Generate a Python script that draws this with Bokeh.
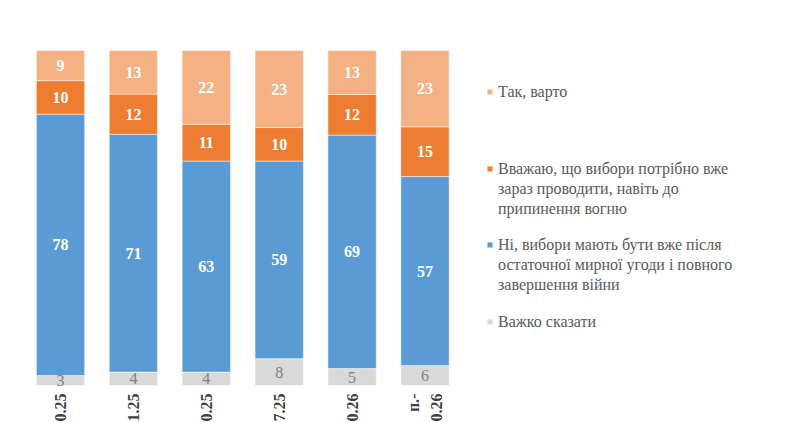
import numpy as np
from bokeh.plotting import figure
from bokeh.models import Range1d, Legend, LegendItem, ColumnDataSource
from bokeh.embed import file_html
from bokeh.resources import INLINE
from bokeh.core.properties import value

# ---- data ----
periods = ["02–10.10.25", "14–21.11.25", "13–20.10.25", "10–17.07.25",
           "02–10.10.26", "п.-\n03–10.10.26"]
hard_to_say = [3, 4, 4, 8, 5, 6]
after_peace = [78, 71, 63, 59, 69, 57]
now_even = [10, 12, 11, 10, 12, 15]
yes_worth = [9, 13, 22, 23, 13, 23]

series_keys = ["hard", "after", "now", "yes"]
series_names = [
    ["Важко сказати"],
    ["Ні, вибори мають бути вже після", "остаточної мирної угоди і повного", "завершення війни"],
    ["Вважаю, що вибори потрібно вже", "зараз проводити, навіть до", "припинення вогню"],
    ["Так, варто"],
]
colors = ["#D9D9D9", "#5B9BD5", "#ED7D31", "#F4B183"]
label_colors = ["#7F7F7F", "white", "white", "white"]

FONT = "Liberation Serif"

x = list(range(len(periods)))

# 100% stacked: each column normalised to its total
vals = np.array([hard_to_say, after_peace, now_even, yes_worth], dtype=float)
shares = vals / vals.sum(axis=0) * 100
data = dict(x=x)
for k, key in enumerate(series_keys):
    data[key] = list(shares[k])
src = ColumnDataSource(data)

p = figure(width=785, height=422, output_backend="svg", toolbar_location=None,
           x_range=Range1d(-0.823, 9.945), y_range=Range1d(-11.04, 114.93),
           min_border=0)
p.axis.visible = False
p.grid.visible = False
p.outline_line_color = None
p.background_fill_color = "white"
p.border_fill_color = "white"

renderers = p.vbar_stack(series_keys, x="x", width=0.663, source=src,
                         color=colors, line_color="white", line_width=0.5)

# segment value labels
tops = np.cumsum(shares, axis=0)
bottoms = tops - shares
for k in range(len(series_keys)):
    centers = (tops[k] + bottoms[k]) / 2
    p.text(x=x, y=list(centers), text=[str(int(v)) for v in vals[k]],
           text_font=value(FONT), text_font_size="16px",
           text_font_style="normal" if k == 0 else "bold",
           text_color=label_colors[k], text_align="center", text_baseline="middle")

# category labels (rotated, cropped at the bottom edge like the original)
p.text(x=x, y=-2.4, text=periods, angle=np.pi / 2, text_font=value(FONT),
       text_font_size="16px", text_font_style="bold", text_color="#404040",
       text_align="right", text_baseline="middle", text_line_height=1.4)

# legends, one per entry; continuation lines as glyph-less items
legend_order = [3, 2, 1, 0]
legend_bottoms = [320.5, 203.5, 127.5, 90.5]
for idx, vy in zip(legend_order, legend_bottoms):
    lines = series_names[idx]
    items = [LegendItem(label=lines[0], renderers=[renderers[idx]])]
    items += [LegendItem(label=ln, renderers=[]) for ln in lines[1:]]
    lg = Legend(items=items, location=(486, vy), padding=0, spacing=0, margin=0,
                border_line_color=None, background_fill_alpha=0,
                glyph_width=7, glyph_height=7, label_standoff=5, label_height=20,
                label_text_font=FONT, label_text_font_size="16px",
                label_text_color="#595959")
    p.add_layout(lg)

open("out.html", "w").write(file_html(p, INLINE))
